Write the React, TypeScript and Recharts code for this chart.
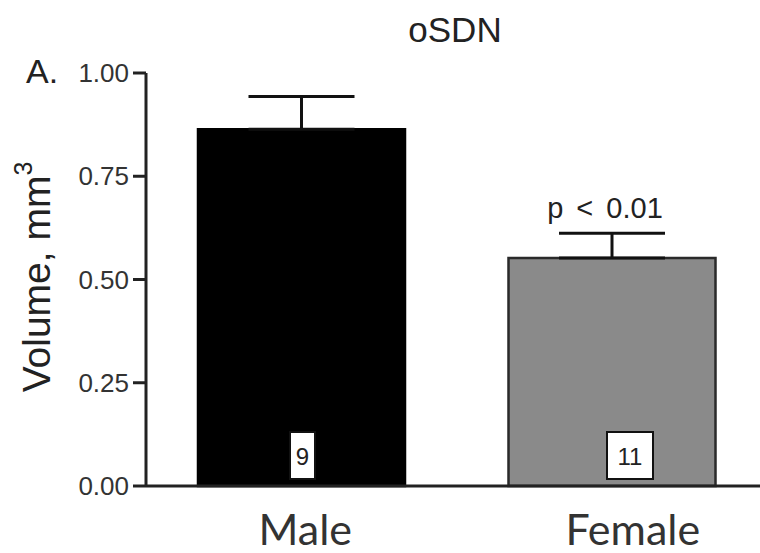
import { BarChart, Bar, XAxis, YAxis, ErrorBar, Cell, LabelList } from 'recharts';

const groups = ['Male', 'Female'];
const volumes = [0.864, 0.552];
const sems = [0.079, 0.06];
const counts = [9, 11];
const notes = ['', 'p < 0.01'];
const yTicks = [0, 0.25, 0.5, 0.75, 1];
const fills = ['#000000', '#8a8a8a'];
const borders = ['#000000', '#2a2a2a'];

const data = groups.map((group, i) => ({
  group,
  volume: volumes[i],
  err: [0, sems[i]],
  n: counts[i],
  note: notes[i],
}));

const AXIS = '#222';

function GroupTick(props: any) {
  const { x, y, payload, index } = props;
  const shift = index === 1 ? 21 : 4;
  return (
    <text x={x + shift} y={y + 59} textAnchor="middle" fontFamily="Lato" fontSize={43} fill="#333">
      {payload.value}
    </text>
  );
}

function CountBox(props: any) {
  const { x, width, value, index } = props;
  const cx = x + width / 2 + (index === 1 ? 18 : 1);
  const w = String(value).length > 1 ? 46 : 25;
  return (
    <g>
      <rect x={cx - w / 2} y={432} width={w} height={47} fill="#fff" stroke="#111" strokeWidth={2} />
      <text x={cx} y={465} textAnchor="middle" fontFamily="Liberation Sans, Arial" fontSize={24} fill="#222">
        {value}
      </text>
    </g>
  );
}

function NoteLabel(props: any) {
  const { x, y, width, value } = props;
  if (!value) return null;
  return (
    <text
      x={x + width / 2 - 7}
      y={y - 40}
      textAnchor="middle"
      fontFamily="Liberation Sans, Arial"
      fontSize={29}
      wordSpacing={5}
      fill="#222"
    >
      {value}
    </text>
  );
}

export default function App() {
  return (
    <div style={{ position: 'absolute', left: 0, top: 0, width: 760, height: 553, overflow: 'hidden', background: '#fff' }}>
      <BarChart width={770} height={553} data={data} margin={{ top: 73, right: 3, bottom: 0, left: 0 }}>
        <XAxis
          dataKey="group"
          height={67}
          tickLine={false}
          tickSize={0}
          tickMargin={0}
          axisLine={{ stroke: AXIS, strokeWidth: 3 }}
          tick={<GroupTick />}
        />
        <YAxis
          width={146}
          domain={[0, 1]}
          ticks={yTicks}
          interval={0}
          tickFormatter={(v: number) => v.toFixed(2)}
          tickSize={13}
          tickMargin={4}
          axisLine={{ stroke: AXIS, strokeWidth: 3 }}
          tickLine={{ stroke: AXIS, strokeWidth: 3 }}
          tick={{ fill: '#333', fontSize: 26, fontFamily: 'Liberation Sans, Arial' }}
        />
        <Bar dataKey="volume" barSize={207} isAnimationActive={false}>
          {data.map((d, i) => (
            <Cell key={d.group} fill={fills[i]} stroke={borders[i]} strokeWidth={2.5} />
          ))}
          <ErrorBar dataKey="err" direction="y" width={53} stroke="#111" strokeWidth={3} />
          <LabelList dataKey="n" content={<CountBox />} />
          <LabelList dataKey="note" content={<NoteLabel />} />
        </Bar>
        <text x={455} y={42} textAnchor="middle" fontFamily="Liberation Sans, Arial" fontSize={35} fill="#222">
          oSDN
        </text>
        <text x={26} y={83} fontFamily="Liberation Sans, Arial" fontSize={34} fill="#222">
          A.
        </text>
        <text
          transform="translate(50, 277) rotate(-90)"
          textAnchor="middle"
          fontFamily="Liberation Sans, Arial"
          fontSize={39}
          fill="#222"
        >
          Volume, mm
          <tspan fontSize={25} dy={-18}>3</tspan>
        </text>
      </BarChart>
    </div>
  );
}
